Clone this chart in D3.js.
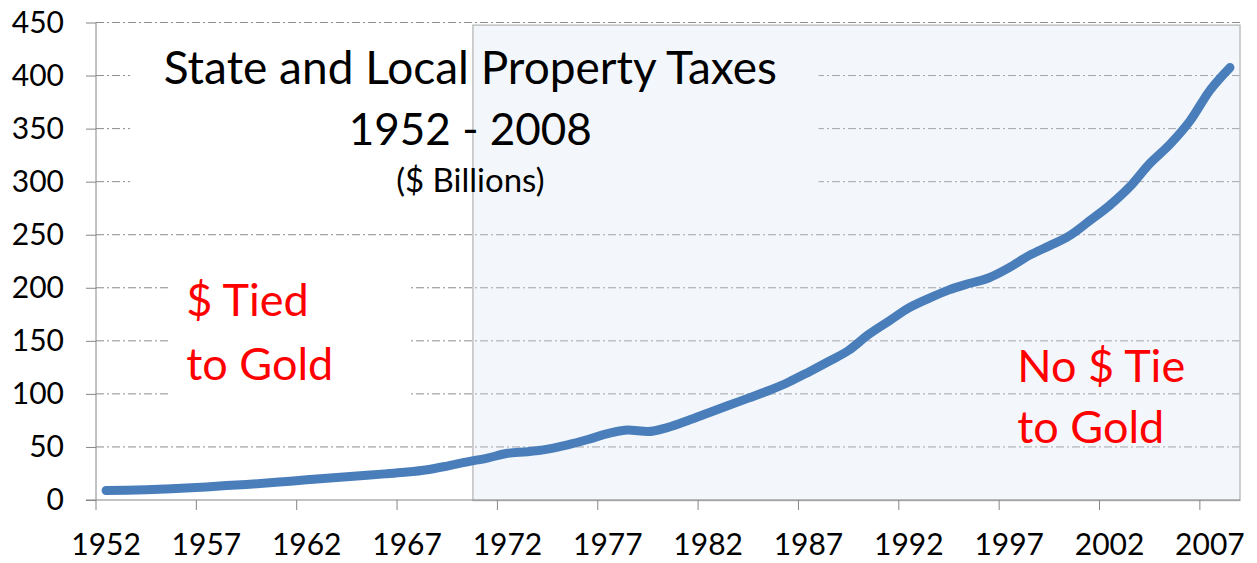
<!DOCTYPE html>
<html>
<head>
<meta charset="utf-8">
<script src="https://cdn.jsdelivr.net/npm/d3@7"></script>
<style>
  body { margin: 0; background: #fff; }
  svg { display: block; font-family: Lato, "Open Sans", sans-serif; }
</style>
</head>
<body>
<div id="chart"></div>
<script>
// State and local property taxes, $ billions
const years = d3.range(1952, 2009);
const taxes = [
  9.0, 9.2, 9.6, 10.3, 11.2, 12.3, 13.6, 14.7, 16.0, 17.5,
  19.0, 20.4, 21.9, 23.3, 24.8, 26.3, 28.5, 32.0, 36.0, 39.5,
  44.0, 45.5, 48.0, 52.0, 57.0, 62.5, 66.0, 64.5, 68.5, 75.0,
  82.0, 89.0, 96.0, 103.0, 111.0, 120.5, 130.5, 141.0, 156.0, 168.5,
  181.0, 190.0, 198.0, 204.0, 209.5, 219.0, 230.5, 239.5, 249.0, 263.0,
  277.5, 295.0, 317.0, 335.0, 357.0, 386.0, 407.5
];
const yTicks = d3.range(0, 451, 50);
const xTickYears = d3.range(1952, 2008, 5);
const titleLines = ["State and Local Property Taxes", "1952 - 2008"];
const subtitle = "($ Billions)";
const goldLabel = ["$ Tied", "to Gold"];
const noGoldLabel = ["No $ Tie", "to Gold"];
const floatStart = 1970.78; // where the shaded "no tie" period begins

const width = 1257, height = 563;
const margin = { top: 22.5, right: 17, bottom: 63, left: 96 };
const innerW = width - margin.left - margin.right;
const innerH = height - margin.top - margin.bottom;

const svg = d3.select("#chart").append("svg")
  .attr("width", width)
  .attr("height", height);

const g = svg.append("g").attr("transform", `translate(${margin.left},${margin.top})`);

const x = d3.scaleBand().domain(years).range([0, innerW]).paddingInner(0).paddingOuter(0);
const xPos = d3.scaleLinear().domain([1952, 2009]).range([0, innerW]);
const y = d3.scaleLinear().domain([0, 450]).range([innerH, 0]);

// gridlines
g.append("g")
  .selectAll("line")
  .data(yTicks.filter(d => d > 0))
  .join("line")
  .attr("x1", 0)
  .attr("x2", innerW)
  .attr("y1", d => y(d))
  .attr("y2", d => y(d))
  .attr("stroke", "#8c8c8c")
  .attr("stroke-width", 1)
  .attr("stroke-dasharray", "8,3,2,3");

// white backing boxes of the text boxes hide the grid behind them
g.append("rect")
  .attr("x", xPos(1953.7))
  .attr("y", y(437))
  .attr("width", xPos(1988.0) - xPos(1953.7))
  .attr("height", y(268) - y(437))
  .attr("fill", "#fff");

g.append("rect")
  .attr("x", xPos(1955.7))
  .attr("y", y(240))
  .attr("width", xPos(1967.6) - xPos(1955.7))
  .attr("height", y(90) - y(240))
  .attr("fill", "#fff");

// shaded floating-dollar period
g.append("rect")
  .attr("x", xPos(floatStart))
  .attr("y", y(447.5))
  .attr("width", innerW - xPos(floatStart))
  .attr("height", y(-0.5) - y(447.5))
  .attr("fill", "rgb(214,230,246)")
  .attr("fill-opacity", 0.3)
  .attr("stroke", "#c0c0c0")
  .attr("stroke-width", 1.5);

// y axis
const yAxis = g.append("g")
  .call(d3.axisLeft(y).tickValues(yTicks).tickSize(10).tickPadding(22));
yAxis.select(".domain").attr("stroke", "#868686").attr("d", `M0,${innerH}V0`);
yAxis.selectAll(".tick line").attr("stroke", "#868686");
yAxis.selectAll(".tick text")
  .attr("font-size", 30)
  .attr("font-family", "Lato, sans-serif")
  .attr("fill", "#000");

// x axis: ticks between categories, labels centred on categories
const xAxisG = g.append("g").attr("transform", `translate(0,${innerH})`);
xAxisG.append("line")
  .attr("x1", -10).attr("x2", innerW)
  .attr("stroke", "#868686");
xAxisG.selectAll(".xtick")
  .data(xTickYears)
  .join("line")
  .attr("class", "xtick")
  .attr("x1", d => x(d)).attr("x2", d => x(d))
  .attr("y1", 0).attr("y2", 10)
  .attr("stroke", "#868686");
xAxisG.selectAll(".xlabel")
  .data(xTickYears)
  .join("text")
  .attr("class", "xlabel")
  .attr("x", d => x(d) + x.bandwidth() / 2)
  .attr("y", 55)
  .attr("text-anchor", "middle")
  .attr("font-size", 30)
  .attr("fill", "#000")
  .text(d => d);

// the series
const line = d3.line()
  .x((d, i) => x(years[i]) + x.bandwidth() / 2)
  .y(d => y(d))
  .curve(d3.curveMonotoneX);

g.append("path")
  .datum(taxes)
  .attr("d", line)
  .attr("fill", "none")
  .attr("stroke", "#4a7ebb")
  .attr("stroke-width", 9)
  .attr("stroke-linecap", "round")
  .attr("stroke-linejoin", "round");

// title text
const titleX = xPos(1970.65);
g.append("text")
  .attr("x", titleX).attr("y", y(392))
  .attr("text-anchor", "middle")
  .attr("font-size", 46)
  .attr("fill", "#000")
  .text(titleLines[0]);
g.append("text")
  .attr("x", titleX).attr("y", y(335))
  .attr("text-anchor", "middle")
  .attr("font-size", 44)
  .attr("fill", "#000")
  .text(titleLines[1]);
g.append("text")
  .attr("x", titleX).attr("y", y(290))
  .attr("text-anchor", "middle")
  .attr("font-size", 33)
  .attr("fill", "#000")
  .text(subtitle);

// period labels
g.append("g")
  .selectAll("text")
  .data(goldLabel)
  .join("text")
  .attr("x", xPos(1956.5))
  .attr("y", (d, i) => y(173 - i * 60))
  .attr("font-size", 45)
  .attr("fill", "#ff0000")
  .text(d => d);

g.append("g")
  .selectAll("text")
  .data(noGoldLabel)
  .join("text")
  .attr("x", xPos(1997.9))
  .attr("y", (d, i) => y(111 - i * 57.5))
  .attr("font-size", 45)
  .attr("fill", "#ff0000")
  .text(d => d);
</script>
</body>
</html>
